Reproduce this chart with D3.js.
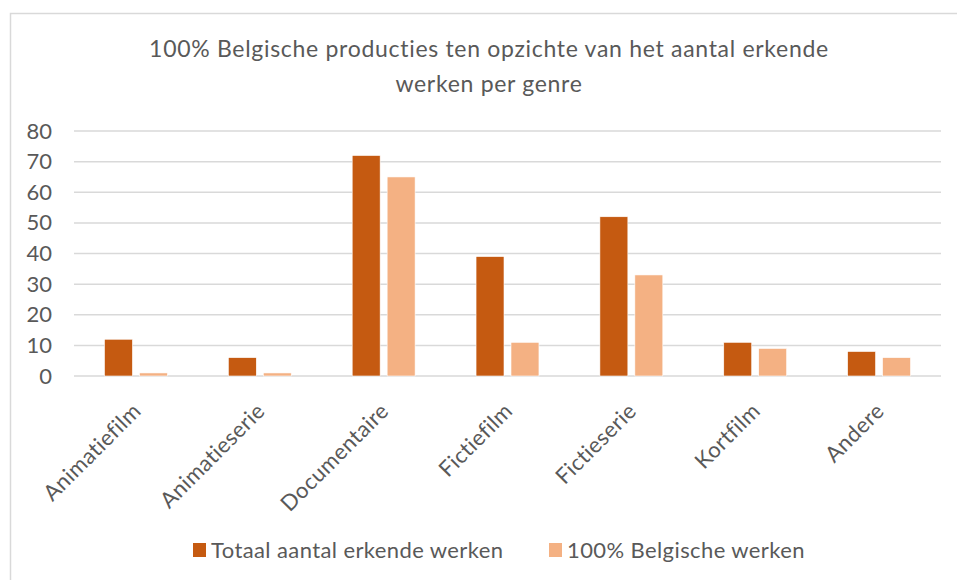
<!DOCTYPE html>
<html>
<head>
<meta charset="utf-8">
<script src="https://cdn.jsdelivr.net/npm/d3@7"></script>
<style>
  body { margin: 0; background: #fff; }
  svg text { font-family: Lato, sans-serif; fill: #595959; }
</style>
</head>
<body>
<div id="chart"></div>
<script>
// data
const genres = ["Animatiefilm", "Animatieserie", "Documentaire", "Fictiefilm", "Fictieserie", "Kortfilm", "Andere"];
const seriesNames = ["Totaal aantal erkende werken", "100% Belgische werken"];
const totaal = [12, 6, 72, 39, 52, 11, 8];
const belgisch = [1, 1, 65, 11, 33, 9, 6];
const yTicks = [0, 10, 20, 30, 40, 50, 60, 70, 80];
const titleLines = ["100% Belgische producties ten opzichte van het aantal erkende", "werken per genre"];

const colors = ["#C55A11", "#F4B183"];

const svgWidth = 957;
const svgHeight = 580;
const plot = { left: 74, right: 941, top: 131, bottom: 376 };

const svg = d3.select("#chart")
    .append("svg")
    .attr("width", svgWidth)
    .attr("height", svgHeight);

// chart border (runs off the right and bottom edges)
svg.append("rect")
    .attr("x", 10.5)
    .attr("y", 13.5)
    .attr("width", 1000)
    .attr("height", 700)
    .attr("fill", "#fff")
    .attr("stroke", "#d9d9d9")
    .attr("stroke-width", 1.5);

// title
svg.append("text")
    .attr("x", 489)
    .attr("y", 57)
    .attr("text-anchor", "middle")
    .style("font-size", "23px")
    .style("letter-spacing", "0.7px")
    .selectAll("tspan")
    .data(titleLines)
    .join("tspan")
    .attr("x", 489)
    .attr("dy", (d, i) => i === 0 ? 0 : 35)
    .text(d => d);

const table = genres.map((g, i) => ({ genre: g, values: [totaal[i], belgisch[i]] }));

const x0 = d3.scaleBand()
    .domain(genres)
    .range([plot.left, plot.right]);

const bw = x0.bandwidth();
const x1 = d3.scaleBand()
    .domain(d3.range(seriesNames.length))
    .range([bw * 0.246, bw * 0.754])
    .paddingInner(0.2);

const y = d3.scaleLinear()
    .domain([0, 80])
    .range([plot.bottom, plot.top]);

// gridlines
svg.append("g")
    .selectAll("line")
    .data(yTicks)
    .join("line")
    .attr("x1", plot.left)
    .attr("x2", plot.right)
    .attr("y1", d => y(d))
    .attr("y2", d => y(d))
    .attr("stroke", "#d9d9d9")
    .attr("stroke-width", 1.5);

// y axis labels
const yAxis = svg.append("g")
    .attr("transform", `translate(${plot.left - 12},0)`)
    .call(d3.axisLeft(y).tickValues(yTicks).tickSize(0).tickPadding(10));
yAxis.select(".domain").remove();
yAxis.selectAll("text")
    .attr("x", -10)
    .style("font-size", "22px")
    .style("font-family", "Lato, sans-serif")
    .attr("fill", "#595959");

// bars
svg.append("g")
    .selectAll("g")
    .data(table)
    .join("g")
    .attr("transform", d => `translate(${x0(d.genre)},0)`)
    .selectAll("rect")
    .data(d => d.values.map((v, i) => ({ i, v })))
    .join("rect")
    .attr("x", d => x1(d.i))
    .attr("width", x1.bandwidth())
    .attr("y", d => y(d.v))
    .attr("height", d => y(0) - y(d.v))
    .attr("fill", d => colors[d.i])
    .attr("stroke", "#fff")
    .attr("stroke-width", 0.6);

// x axis labels
const xAxis = svg.append("g")
    .attr("transform", `translate(0,${plot.bottom})`)
    .call(d3.axisBottom(x0).tickSize(0));
xAxis.select(".domain").remove();
xAxis.selectAll("text")
    .attr("text-anchor", "end")
    .attr("transform", "translate(1,31) rotate(-45)")
    .attr("x", 0)
    .attr("y", 0)
    .attr("dy", "0.35em")
    .style("font-size", "22px")
    .style("letter-spacing", "0.4px")
    .style("font-family", "Lato, sans-serif")
    .attr("fill", "#595959");

// legend
const legendX = [193, 549];
const legend = svg.append("g")
    .selectAll("g")
    .data(seriesNames)
    .join("g")
    .attr("transform", (d, i) => `translate(${legendX[i]},543)`);
legend.append("rect")
    .attr("width", 13)
    .attr("height", 14)
    .attr("fill", (d, i) => colors[i]);
legend.append("text")
    .attr("x", 18)
    .attr("y", 14.5)
    .style("font-size", "22px")
    .style("letter-spacing", "0.4px")
    .text(d => d);
</script>
</body>
</html>
